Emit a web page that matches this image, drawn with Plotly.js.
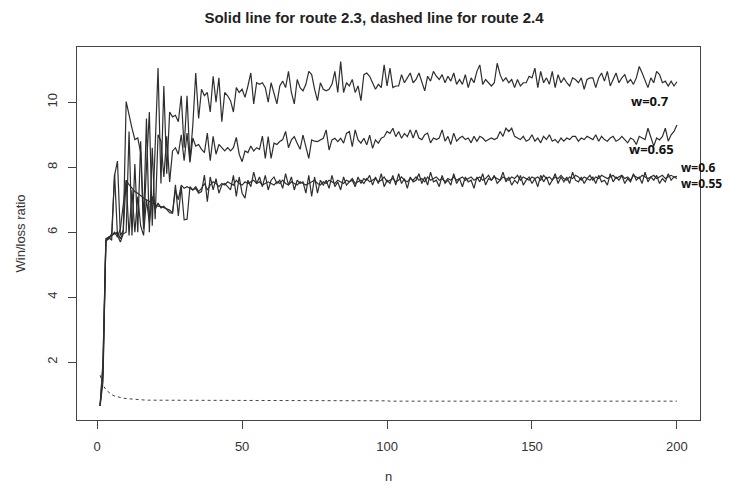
<!DOCTYPE html>
<html>
<head>
<meta charset="utf-8">
<script src="https://cdn.plot.ly/plotly-3.0.1.min.js"></script>
<style>html,body{margin:0;padding:0;background:#fff;}#chart{width:748px;height:492px;}</style>
</head>
<body>
<div id="chart"></div>
<script>
// Win/loss ratio by n (1..200)
const w070 = [
0.65,1.9,5.75,5.8,5.9,5.95,6.0,5.8,6.0,10.02,
9.55,9.2,8.85,8.9,8.45,6.1,8.0,9.7,6.2,8.9,
11.05,7.5,10.5,7.8,9.7,9.55,9.6,9.4,10.2,8.6,
10.2,8.2,9.3,10.9,9.5,10.4,10.2,10.3,9.7,10.8,
10.0,10.75,9.4,10.3,10.2,10.05,9.7,10.45,10.3,10.4,
10.15,10.5,10.9,9.95,10.6,10.55,10.6,10.45,10.0,10.6,
10.25,9.95,10.5,10.65,10.45,10.95,10.3,9.95,10.7,10.45,
10.35,10.55,10.95,10.85,10.4,10.05,10.6,10.4,10.35,10.4,
10.55,10.95,10.3,11.25,10.3,10.6,10.5,10.7,10.3,10.5,
10.05,10.85,10.9,10.8,10.6,10.4,10.55,10.45,11.15,10.5,
11.05,10.45,10.5,10.5,10.85,10.6,10.75,10.9,10.6,10.7,
10.9,10.6,10.35,10.8,10.65,10.95,10.8,10.7,10.85,10.6,
10.8,10.65,10.9,10.55,10.7,10.55,10.85,10.45,10.75,10.6,
10.95,11.15,10.55,10.7,10.6,10.5,10.6,11.2,10.85,10.65,
10.75,10.6,10.7,10.45,10.7,10.5,10.6,10.6,10.8,10.75,
11.05,10.45,10.95,10.6,10.75,10.55,10.95,10.45,10.85,10.6,
10.75,10.6,10.5,10.75,10.7,10.6,10.75,10.4,10.7,10.75,
10.75,10.45,10.75,10.9,10.65,10.95,10.5,10.7,10.9,10.6,
10.75,10.85,10.6,10.7,10.55,10.75,11.1,10.9,10.65,10.45,
10.75,10.6,10.95,10.85,10.6,10.65,10.5,10.65,10.5,10.63
];
const w065 = [
0.65,1.6,5.7,5.85,5.75,7.8,5.9,5.7,5.95,6.0,
9.1,5.9,8.1,6.0,8.8,6.3,9.5,6.0,8.6,6.4,
9.0,8.8,7.7,8.95,7.55,8.5,8.6,8.4,9.0,8.2,
9.05,8.15,8.9,8.65,8.7,8.55,8.45,9.05,8.2,8.95,
8.4,8.7,8.6,8.5,8.6,8.5,8.6,8.92,8.4,8.17,
8.5,8.45,8.65,8.5,8.6,8.55,8.96,8.27,8.94,8.27,
8.74,8.7,8.79,8.85,9.1,8.6,8.84,8.94,8.74,8.55,
8.99,8.65,8.27,8.84,8.8,8.79,8.85,8.89,9.15,8.53,
8.84,8.89,8.79,8.89,8.74,9.04,9.1,8.63,9.15,8.84,
8.74,8.89,8.69,8.99,8.58,8.84,8.74,8.89,8.94,9.1,
9.04,9.2,8.94,9.1,8.89,9.04,8.94,9.15,8.9,9.15,
8.9,8.85,9.0,9.05,8.75,8.9,8.85,8.9,9.15,8.8,
8.95,8.7,9.05,8.8,8.9,8.95,8.85,8.9,8.75,8.95,
8.8,8.95,8.9,8.8,8.85,8.9,8.85,8.9,9.1,8.95,
9.2,9.1,9.2,8.95,8.9,8.85,8.95,8.8,8.85,9.0,
8.8,8.9,8.75,8.95,8.85,9.0,8.8,8.85,8.75,8.9,
8.8,8.9,8.85,8.95,8.95,8.8,8.9,8.85,8.95,8.9,
8.85,9.0,8.8,8.95,8.85,8.8,8.9,8.95,8.8,8.85,
8.95,8.85,8.75,8.9,8.85,8.7,8.95,8.9,8.85,9.2,
8.95,8.65,8.9,8.84,8.95,9.2,8.8,9.0,9.1,9.3
];
const w060 = [
0.65,1.4,5.75,5.8,5.95,7.75,8.19,5.9,6.05,7.6,
5.9,7.3,6.0,7.1,6.2,5.9,7.0,6.3,7.1,6.7,
6.9,6.75,6.8,6.7,6.6,6.58,7.46,6.5,7.4,6.38,
6.4,7.4,7.3,7.35,7.2,7.25,7.76,6.94,7.7,7.3,
7.65,7.2,7.45,7.5,7.4,7.3,7.75,7.1,7.7,7.2,
7.05,7.6,7.4,7.85,7.5,7.7,7.4,7.75,7.3,7.6,
7.7,7.5,7.6,7.35,7.8,7.45,7.7,7.3,7.6,7.5,
7.55,7.2,7.75,7.1,7.7,7.2,7.6,7.45,7.6,7.35,
7.75,7.4,7.55,7.3,7.7,7.45,7.55,7.6,7.4,7.7,
7.5,7.65,7.6,7.75,7.45,7.7,7.5,7.8,7.4,7.6,
7.5,7.75,7.45,7.8,7.5,7.65,7.35,7.7,7.55,7.6,
7.8,7.5,7.7,7.45,7.85,7.55,7.6,7.4,7.75,7.5,
7.6,7.45,7.8,7.5,7.65,7.4,7.7,7.55,7.6,7.35,
7.7,7.55,7.8,7.45,7.65,7.6,7.75,7.5,7.6,7.85,
7.55,7.7,7.45,7.6,7.5,7.75,7.45,7.6,7.7,7.5,
7.65,7.4,7.75,7.55,7.7,7.45,7.6,7.8,7.5,7.7,
7.55,7.7,7.5,7.85,7.6,7.55,7.7,7.5,7.65,7.6,
7.7,7.5,7.75,7.55,7.6,7.45,7.8,7.55,7.7,7.6,
7.75,7.5,7.65,7.55,7.8,7.6,7.7,7.5,7.85,7.55,
7.7,7.6,7.75,7.5,7.65,7.55,7.8,7.6,7.7,7.65
];
const w055 = [
0.65,2.0,5.8,5.85,5.9,6.0,5.85,6.1,6.95,7.6,
7.46,7.35,7.25,7.2,7.12,7.05,7.0,6.95,6.9,6.85,
6.8,6.79,6.75,6.72,6.68,6.6,7.3,7.0,7.45,7.35,
7.4,7.35,7.3,7.4,7.25,7.35,7.5,7.3,7.45,7.55,
7.5,7.4,7.5,7.45,7.55,7.5,7.45,7.6,7.5,7.45,
7.55,7.5,7.55,7.6,7.5,7.55,7.45,7.5,7.55,7.5,
7.45,7.55,7.5,7.6,7.5,7.45,7.55,7.5,7.45,7.55,
7.5,7.45,7.5,7.55,7.6,7.5,7.45,7.55,7.5,7.6,
7.55,7.5,7.6,7.55,7.5,7.6,7.55,7.65,7.5,7.55,
7.6,7.5,7.65,7.55,7.6,7.65,7.55,7.6,7.7,7.55,
7.6,7.65,7.55,7.6,7.7,7.6,7.55,7.65,7.6,7.7,
7.6,7.65,7.55,7.7,7.6,7.65,7.7,7.6,7.65,7.55,
7.65,7.6,7.7,7.6,7.65,7.7,7.6,7.65,7.7,7.6,
7.65,7.7,7.6,7.65,7.75,7.6,7.7,7.65,7.6,7.7,
7.65,7.6,7.7,7.65,7.75,7.6,7.7,7.65,7.6,7.7,
7.65,7.7,7.6,7.75,7.65,7.7,7.6,7.7,7.65,7.75,
7.65,7.6,7.7,7.65,7.75,7.7,7.6,7.7,7.65,7.75,
7.6,7.7,7.65,7.75,7.7,7.65,7.7,7.75,7.65,7.7,
7.75,7.65,7.7,7.6,7.75,7.7,7.65,7.75,7.7,7.65,
7.7,7.75,7.65,7.7,7.75,7.65,7.7,7.75,7.7,7.72
];
// route 2.4 (dashed)
const route24 = [
1.6,1.3,1.15,1.06,1.0,0.96,0.93,0.91,0.89,0.88,
0.87,0.86,0.85,0.85,0.84,0.84,0.83,0.83,0.83,0.82,
0.82,0.82,0.82,0.82,0.82,0.82,0.82,0.82,0.82,0.82,
0.82,0.82,0.82,0.82,0.82,0.82,0.82,0.82,0.82,0.82,
0.81,0.81,0.81,0.81,0.81,0.81,0.81,0.81,0.81,0.81,
0.81,0.81,0.81,0.81,0.81,0.81,0.81,0.81,0.81,0.81,
0.81,0.81,0.81,0.81,0.81,0.81,0.81,0.81,0.81,0.81,
0.81,0.81,0.81,0.81,0.81,0.81,0.81,0.81,0.81,0.81,
0.81,0.81,0.81,0.81,0.81,0.81,0.81,0.81,0.81,0.81,
0.81,0.81,0.81,0.81,0.81,0.81,0.81,0.81,0.81,0.81,
0.80,0.80,0.80,0.80,0.80,0.80,0.80,0.80,0.80,0.80,
0.80,0.80,0.80,0.80,0.80,0.80,0.80,0.80,0.80,0.80,
0.80,0.80,0.80,0.80,0.80,0.80,0.80,0.80,0.80,0.80,
0.80,0.80,0.80,0.80,0.80,0.80,0.80,0.80,0.80,0.80,
0.80,0.80,0.80,0.80,0.80,0.80,0.80,0.80,0.80,0.80,
0.80,0.80,0.80,0.80,0.80,0.80,0.80,0.80,0.80,0.80,
0.80,0.80,0.80,0.80,0.80,0.80,0.80,0.80,0.80,0.80,
0.80,0.80,0.80,0.80,0.80,0.80,0.80,0.80,0.80,0.80,
0.80,0.80,0.80,0.80,0.80,0.80,0.80,0.80,0.80,0.80,
0.80,0.80,0.80,0.80,0.80,0.80,0.80,0.80,0.80,0.80
];
const seriesLabels = ["w=0.7", "w=0.65", "w=0.6", "w=0.55"];
const xTicks = [0, 50, 100, 150, 200];
const yTicks = [2, 4, 6, 8, 10];

const n = w070.map((_, i) => i + 1);
const solid = {color: '#2e2e2e', width: 1.2};
const traces = [w070, w065, w060, w055].map((ys, i) => ({
  x: n, y: ys, type: 'scatter', mode: 'lines', name: seriesLabels[i],
  line: solid, hoverinfo: 'skip'
}));
traces.push({x: n, y: route24, type: 'scatter', mode: 'lines', name: 'route 2.4',
  line: {color: '#444', width: 1, dash: '3px,3px'}, hoverinfo: 'skip'});

const labelFont = {family: 'Open Sans, Noto Sans, sans-serif', size: 13, color: '#111'};
const smallLabelFont = {family: 'Open Sans, Noto Sans, sans-serif', size: 12, color: '#111'};
const axisFont = {family: 'Liberation Sans, Arial, sans-serif', size: 13, color: '#333'};

const layout = {
  width: 748, height: 492,
  margin: {l: 77, r: 48, t: 47, b: 72, pad: 0},
  paper_bgcolor: '#fff', plot_bgcolor: '#fff',
  showlegend: false,
  title: {text: '<b>Solid line for route 2.3, dashed line for route 2.4</b>',
    font: {family: 'Liberation Sans, Arial, sans-serif', size: 15, color: '#222'},
    x: 0.5, xref: 'container', y: 1 - 17.5/492, yref: 'container', xanchor: 'center', yanchor: 'middle'},
  xaxis: {range: [-6.96, 207.96], tickvals: xTicks, ticktext: xTicks.map(String),
    showgrid: false, zeroline: false, showline: true, mirror: true, linecolor: '#444', linewidth: 1,
    ticks: 'outside', ticklen: 8, tickcolor: '#444', tickfont: axisFont, ticklabelstandoff: 6},
  yaxis: {range: [0.22, 11.70], tickvals: yTicks, ticktext: yTicks.map(String), tickangle: -90,
    showgrid: false, zeroline: false, showline: true, mirror: true, linecolor: '#444', linewidth: 1,
    ticks: 'outside', ticklen: 8, tickcolor: '#444', tickfont: axisFont, ticklabelstandoff: 6},
  annotations: [
    {text: 'Win/loss ratio', xref: 'paper', yref: 'paper', x: (20-77)/623, y: 0.5, textangle: -90,
      showarrow: false, xanchor: 'center', yanchor: 'middle', font: axisFont},
    {text: 'n', xref: 'paper', yref: 'paper', x: 0.5, y: (420-477)/373, showarrow: false,
      xanchor: 'center', yanchor: 'middle', font: axisFont},
    {text: '<b>' + seriesLabels[0] + '</b>', x: 190.6, y: 10.04, showarrow: false, xanchor: 'center', yanchor: 'middle', font: labelFont},
    {text: '<b>' + seriesLabels[1] + '</b>', x: 191.1, y: 8.56, showarrow: false, xanchor: 'center', yanchor: 'middle', font: labelFont},
    {text: '<b>' + seriesLabels[2] + '</b><br><b>' + seriesLabels[3] + '</b>', x: 200.9, y: 7.73,
      showarrow: false, xanchor: 'left', yanchor: 'middle', align: 'left', font: smallLabelFont, borderpad: 0}
  ]
};
Plotly.newPlot('chart', traces, layout, {staticPlot: true, displayModeBar: false});
</script>
</body>
</html>
